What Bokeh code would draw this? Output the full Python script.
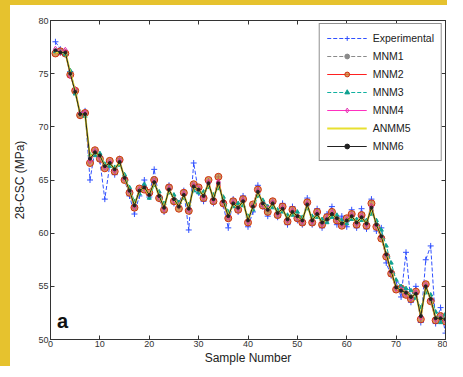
from bokeh.plotting import figure
from bokeh.models import LinearAxis, Label, Range1d, FixedTicker, Legend, InlineStyleSheet
from bokeh.embed import file_html
from bokeh.resources import INLINE

samples = list(range(1, 81))

experimental = [78.0,77.3,76.8,75.2,73.5,71.0,71.5,65.0,67.8,66.8,
63.2,66.4,65.5,67.0,65.0,63.5,61.8,63.5,65.0,63.4,
66.0,63.2,62.0,64.5,62.8,62.8,64.0,60.3,66.6,63.8,
63.0,64.9,62.8,65.3,62.6,60.5,63.2,62.0,63.5,60.6,
62.0,64.5,62.5,61.6,63.0,61.5,62.8,60.8,62.5,61.2,
60.8,63.3,60.8,62.3,60.5,61.8,62.5,60.8,61.6,60.6,
62.2,60.5,62.3,60.4,63.2,60.2,60.5,57.2,56.0,55.4,
54.0,58.2,53.5,55.0,51.6,57.5,58.8,51.5,53.0,50.6]

mnm1 = [77.0,76.9,77.1,75.1,73.2,71.3,71.1,67.2,67.5,67.2,
66.4,66.5,66.1,66.6,65.3,64.1,62.7,63.9,64.4,63.5,
64.7,63.6,62.5,64.0,63.3,62.4,63.5,62.4,64.3,64.0,
63.6,64.6,63.3,64.6,63.1,61.7,62.7,62.5,62.9,61.3,
62.4,63.8,62.9,62.1,62.7,62.0,62.2,61.4,61.9,61.7,
61.3,62.6,61.3,61.7,61.1,61.2,61.7,61.5,61.0,61.1,
61.5,61.1,61.4,61.0,62.3,60.9,59.8,58.1,56.5,55.0,
54.5,54.5,54.1,54.2,52.3,54.9,53.9,52.1,51.9,52.0]

mnm2 = [76.9,77.1,76.9,74.9,73.4,71.1,71.3,66.6,67.8,67.0,
66.1,66.8,65.8,66.9,65.0,63.8,62.4,64.2,64.1,63.8,
65.0,63.3,62.2,64.3,63.0,62.3,63.8,62.1,64.6,64.3,
63.3,65.0,63.0,65.3,62.8,61.4,63.0,62.2,63.2,61.0,
62.7,64.1,62.6,62.0,63.0,61.7,62.5,61.1,62.2,61.4,
61.0,62.9,61.0,62.0,60.8,61.5,62.0,61.2,60.7,61.4,
61.8,60.8,61.7,60.7,62.8,60.6,59.5,57.8,56.2,54.7,
54.8,54.2,53.8,54.5,51.9,55.2,53.6,51.8,52.2,51.7]

mnm3 = [77.1,77.0,76.8,75.3,73.1,71.4,71.0,67.4,67.3,67.5,
66.5,66.3,66.2,66.4,65.5,64.3,63.0,63.7,64.6,63.3,
64.5,63.9,62.8,63.8,63.6,62.9,63.3,62.7,64.0,63.8,
63.9,64.3,63.6,64.2,63.4,62.0,62.5,62.8,62.6,61.6,
62.2,63.5,63.1,62.5,62.4,62.2,62.0,61.7,61.7,62.0,
61.5,62.3,61.6,61.5,61.3,61.0,61.5,61.7,61.2,60.9,
61.3,61.3,61.2,61.2,61.8,61.2,60.3,58.8,57.2,55.6,
55.0,54.8,54.6,53.9,53.0,54.4,54.2,52.6,51.6,52.4]

mnm4 = [77.3,77.0,77.2,74.8,73.5,71.3,71.3,66.8,67.7,67.1,
66.2,66.7,65.9,66.8,65.1,63.9,62.5,64.1,64.2,63.7,
64.9,63.4,62.3,64.2,63.1,62.6,63.7,62.2,64.5,64.2,
63.4,64.8,63.1,64.8,62.9,61.5,62.9,62.3,63.1,61.1,
62.6,64.0,62.7,62.3,62.9,61.8,62.4,61.2,62.1,61.5,
61.1,62.8,61.1,61.9,60.9,61.4,61.9,61.3,60.8,61.3,
61.7,60.9,61.6,60.8,62.5,60.7,59.6,57.9,56.3,54.8,
54.7,54.3,53.9,54.4,52.1,55.1,53.7,51.9,52.1,51.8]

anmm5 = [77.0,77.0,77.0,75.1,73.4,71.2,71.2,67.1,67.6,67.3,
66.3,66.6,66.0,66.7,65.2,64.0,62.6,64.0,64.3,63.6,
64.8,63.5,62.4,64.1,63.2,62.5,63.6,62.3,64.4,64.1,
63.5,64.7,63.2,64.7,63.0,61.6,62.8,62.4,63.0,61.2,
62.5,63.9,62.8,62.2,62.8,61.9,62.3,61.3,62.0,61.6,
61.2,62.7,61.2,61.8,61.0,61.3,61.8,61.4,60.9,61.2,
61.6,61.0,61.5,60.9,62.4,60.8,59.7,58.0,56.4,54.9,
54.6,54.4,54.0,54.3,52.2,55.0,53.8,52.0,52.0,51.9]

mnm6 = [77.2,77.0,77.0,75.0,73.3,71.2,71.2,67.0,67.6,67.3,
66.3,66.6,66.0,66.7,65.2,64.0,62.6,64.0,64.3,63.6,
64.8,63.5,62.4,64.1,63.2,62.5,63.6,62.3,64.4,64.1,
63.5,64.7,63.2,64.7,63.0,61.6,62.8,62.4,63.0,61.2,
62.5,63.9,62.8,62.2,62.8,61.9,62.3,61.3,62.0,61.6,
61.2,62.7,61.2,61.8,61.0,61.3,61.8,61.4,60.9,61.2,
61.6,61.0,61.5,60.9,62.4,60.8,59.7,58.0,56.4,54.9,
54.6,54.4,54.0,54.3,52.2,55.0,53.8,52.0,52.0,51.9]

x_ticks = [0, 10, 20, 30, 40, 50, 60, 70, 80]
y_ticks = [50, 55, 60, 65, 70, 75, 80]

FONT = "Liberation Sans"
AXC = "#333333"

p = figure(width=437, height=361, output_backend="svg", toolbar_location=None,
           x_range=Range1d(0, 80), y_range=Range1d(50, 80),
           min_border_left=39, min_border_right=12, min_border_top=15, min_border_bottom=32,
           background_fill_color="white", border_fill_color="white")
p.stylesheets = [InlineStyleSheet(css=":host { box-sizing: content-box; border-left: 10px solid #e6c22e; border-top: 5px solid #e6c22e; }")]
p.grid.visible = False
p.outline_line_color = AXC

for ax in (p.xaxis[0], p.yaxis[0]):
    ax.major_tick_in = 4
    ax.major_tick_out = 0
    ax.minor_tick_line_color = None
    ax.axis_line_color = AXC
    ax.major_tick_line_color = AXC
    ax.major_label_text_font = FONT
    ax.major_label_text_font_size = "9px"
    ax.major_label_text_color = AXC
    ax.axis_label_text_font = FONT
    ax.axis_label_text_font_size = "12px"
    ax.axis_label_text_font_style = "normal"
    ax.axis_label_text_color = "#222222"
    ax.major_label_standoff = 1
    ax.axis_label_standoff = 1

p.xaxis[0].ticker = FixedTicker(ticks=x_ticks)
p.yaxis[0].ticker = FixedTicker(ticks=y_ticks)
p.xaxis[0].axis_label = "Sample Number"
p.yaxis[0].axis_label = "28-CSC (MPa)"
p.yaxis[0].major_label_standoff = 2
p.yaxis[0].axis_label_standoff = 8

top = LinearAxis(ticker=FixedTicker(ticks=x_ticks), major_label_text_font_size="1px",
                 major_label_text_color=None, major_tick_in=4, major_tick_out=0,
                 minor_tick_line_color=None, axis_line_color=AXC,
                 major_tick_line_color=AXC, major_label_standoff=0)
right = LinearAxis(ticker=FixedTicker(ticks=y_ticks), major_label_text_font_size="1px",
                   major_label_text_color=None, major_tick_in=4, major_tick_out=0,
                   minor_tick_line_color=None, axis_line_color=AXC,
                   major_tick_line_color=AXC, major_label_standoff=0)
p.add_layout(top, "above")
p.add_layout(right, "right")

items = []
r1 = p.line(samples, experimental, color="#3050ff", line_dash="4 2", line_width=1)
r1b = p.scatter(samples, experimental, marker="cross", size=6, color="#3050ff")
items.append(("Experimental", [r1, r1b]))

r2 = p.line(samples, mnm1, color="#8a8a8a", line_dash="4 2", line_width=1)
r2b = p.scatter(samples, mnm1, marker="circle", size=3, color="#8a8a8a")
items.append(("MNM1", [r2, r2b]))

r3 = p.line(samples, mnm2, color="#ff2020", line_width=1)
r3b = p.scatter(samples, mnm2, marker="circle", size=7, line_color="#d03010",
                fill_color="#c8863a", fill_alpha=0.8)
items.append(("MNM2", [r3, r3b]))

r4 = p.line(samples, mnm3, color="#10b0a0", line_dash="4 2", line_width=1)
r4b = p.scatter(samples, mnm3, marker="triangle", size=4, color="#10a090")
items.append(("MNM3", [r4, r4b]))

r5 = p.line(samples, mnm4, color="#ff30c0", line_width=1)
r5b = p.scatter(samples, mnm4, marker="diamond", size=6, line_color="#e030b0", fill_color=None)
items.append(("MNM4", [r5, r5b]))

r6 = p.line(samples, anmm5, color="#e8e030", line_width=2)
items.append(("ANMM5", [r6]))

r7 = p.line(samples, mnm6, color="#222222", line_width=1)
r7b = p.scatter(samples, mnm6, marker="circle", size=3, color="#222222")
items.append(("MNM6", [r7, r7b]))

legend = Legend(items=items, location="top_right", label_text_font=FONT,
                label_text_font_size="10.5px", label_text_color="#222222",
                glyph_width=40, glyph_height=12, label_height=14, spacing=4,
                label_standoff=6, padding=7, margin=3,
                border_line_color="#222222", border_line_width=1.5,
                background_fill_color="white", background_fill_alpha=1)
p.add_layout(legend)

p.add_layout(Label(x=1.3, y=50.7, text="a", text_font=FONT, text_font_size="20px",
                   text_font_style="bold", text_color="#111111", text_baseline="bottom"))

open("out.html", "w").write(file_html(p, INLINE))
